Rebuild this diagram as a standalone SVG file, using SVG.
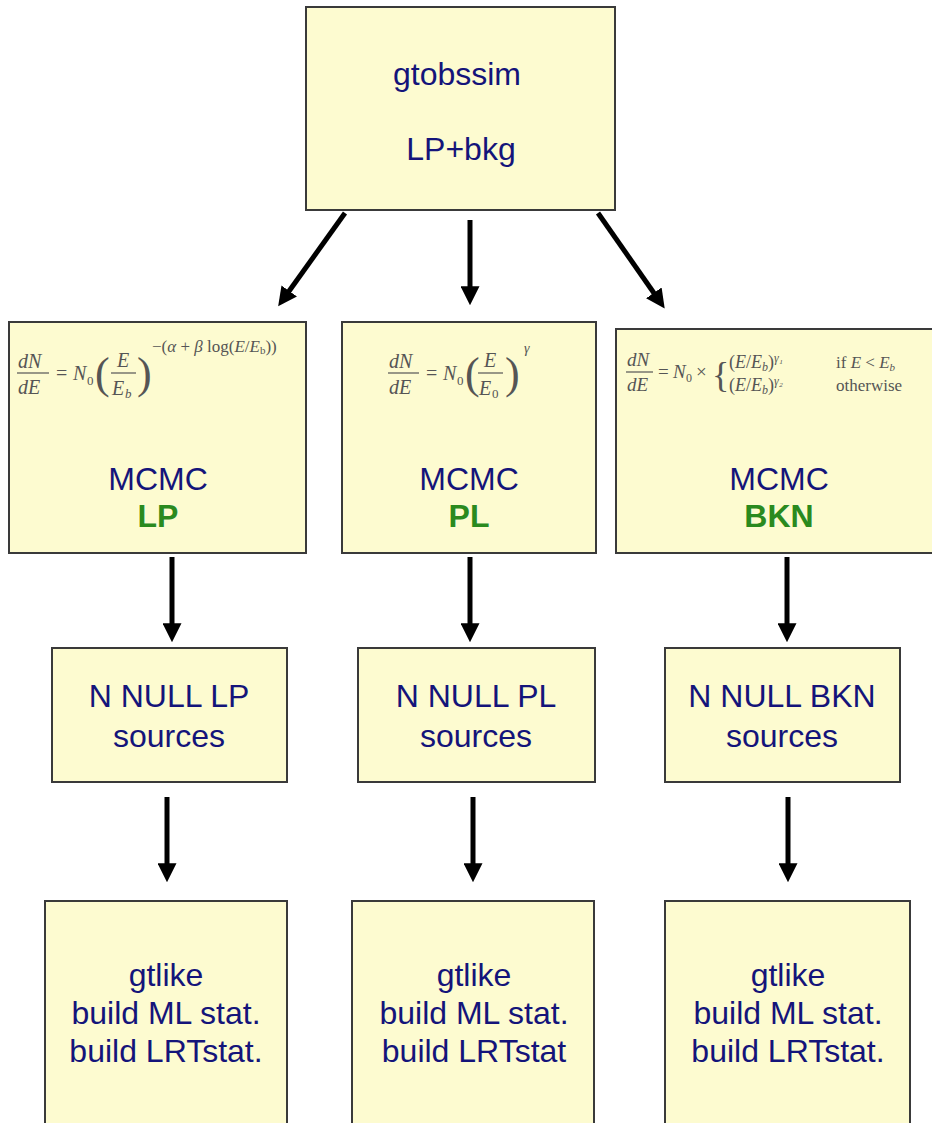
<svg xmlns="http://www.w3.org/2000/svg" width="932" height="1123" viewBox="0 0 932 1123">
<defs>
<style>
.box{fill:#fdfbd0;stroke:#3a3a3a;stroke-width:2}
.t{font-family:"Liberation Sans",Arial,sans-serif;font-size:32px;fill:#14147a;text-anchor:middle}
.g{font-family:"Liberation Sans",Arial,sans-serif;font-size:32px;font-weight:bold;fill:#2a8a1e;text-anchor:middle}
.m{font-family:"Liberation Serif","Times New Roman",serif;font-size:20px;fill:#555}
.mi{font-style:italic}
.ms{font-family:"Liberation Serif","Times New Roman",serif;font-size:13px;fill:#555}
.fl{stroke:#555;stroke-width:1.2}
.c line{stroke:#000;stroke-width:5;marker-end:url(#ah)}
</style>
<marker id="ah" viewBox="0 0 10 10" refX="2" refY="5" markerWidth="3.8" markerHeight="3.8" orient="auto" markerUnits="strokeWidth">
<path d="M0,0 L10,5 L0,10 z" fill="#000"/>
</marker>
</defs>
<rect width="932" height="1123" fill="#fff"/>

<g id="top">
<rect class="box" x="306" y="7" width="309" height="203"/>
<text class="t" x="457" y="85">gtobssim</text>
<text class="t" x="461" y="160">LP+bkg</text>
</g>

<g id="mcmc-lp">
<rect class="box" x="9" y="322" width="297" height="231"/>
<text class="m mi" x="18" y="368">dN</text>
<line class="fl" x1="17" y1="373" x2="49" y2="373"/>
<text class="m mi" x="18" y="394">dE</text>
<text class="m" x="56" y="380">=</text>
<text class="m mi" x="73" y="380">N</text><text class="ms" x="87" y="385">0</text>
<text class="m" x="95" y="388" style="font-size:44px">(</text>
<text class="m mi" x="117" y="367">E</text>
<line class="fl" x1="111" y1="373" x2="136" y2="373"/>
<text class="m mi" x="112" y="395">E</text><text class="ms mi" x="125" y="398">b</text>
<text class="m" x="137" y="388" style="font-size:44px">)</text>
<text class="ms" x="152" y="352" style="font-size:17px">−(<tspan class="mi">α</tspan> + <tspan class="mi">β</tspan> log(<tspan class="mi">E</tspan>/<tspan class="mi">E</tspan><tspan style="font-size:11px" dy="2">b</tspan><tspan dy="-2">))</tspan></text>
<text class="t" x="158" y="490">MCMC</text>
<text class="g" x="158" y="527">LP</text>
</g>

<g id="mcmc-pl">
<rect class="box" x="342" y="322" width="254" height="231"/>
<text class="m mi" x="389" y="368">dN</text>
<line class="fl" x1="388" y1="373" x2="419" y2="373"/>
<text class="m mi" x="389" y="394">dE</text>
<text class="m" x="426" y="380">=</text>
<text class="m mi" x="443" y="380">N</text><text class="ms" x="457" y="385">0</text>
<text class="m" x="465" y="388" style="font-size:44px">(</text>
<text class="m mi" x="484" y="367">E</text>
<line class="fl" x1="478" y1="373" x2="503" y2="373"/>
<text class="m mi" x="479" y="395">E</text><text class="ms" x="492" y="398">0</text>
<text class="m" x="505" y="388" style="font-size:44px">)</text>
<text class="ms mi" x="524" y="353" style="font-size:14px">γ</text>
<text class="t" x="469" y="490">MCMC</text>
<text class="g" x="469" y="527">PL</text>
</g>

<g id="mcmc-bkn">
<rect class="box" x="616" y="329" width="320" height="224"/>
<text class="m mi" x="627" y="366" style="font-size:19px">dN</text>
<line class="fl" x1="626" y1="372" x2="653" y2="372"/>
<text class="m mi" x="627" y="391" style="font-size:19px">dE</text>
<text class="m" x="658" y="378" style="font-size:19px">=</text>
<text class="m mi" x="673" y="378" style="font-size:19px">N</text>
<text class="ms" x="686" y="382" style="font-size:12px">0</text>
<text class="m" x="696" y="378" style="font-size:19px">×</text>
<text class="m" x="712" y="387" style="font-size:36px">{</text>
<text class="m" x="729" y="368" style="font-size:18px">(<tspan class="mi">E</tspan>/<tspan class="mi">E</tspan><tspan class="mi" style="font-size:12px" dy="3">b</tspan><tspan dy="-3">)</tspan><tspan class="mi" style="font-size:12px" dy="-6">γ₁</tspan></text>
<text class="m" x="729" y="391" style="font-size:18px">(<tspan class="mi">E</tspan>/<tspan class="mi">E</tspan><tspan class="mi" style="font-size:12px" dy="3">b</tspan><tspan dy="-3">)</tspan><tspan class="mi" style="font-size:12px" dy="-6">γ₂</tspan></text>
<text class="m" x="836" y="368" style="font-size:17px">if <tspan class="mi">E</tspan> &lt; <tspan class="mi">E</tspan><tspan class="mi" style="font-size:11px" dy="3">b</tspan></text>
<text class="m" x="836" y="391" style="font-size:17px">otherwise</text>
<text class="t" x="779" y="490">MCMC</text>
<text class="g" x="779" y="527">BKN</text>
</g>

<g id="null-lp">
<rect class="box" x="52" y="648" width="235" height="134"/>
<text class="t" x="169" y="707">N NULL LP</text>
<text class="t" x="169" y="747">sources</text>
</g>
<g id="null-pl">
<rect class="box" x="358" y="648" width="237" height="134"/>
<text class="t" x="476" y="707">N NULL PL</text>
<text class="t" x="476" y="747">sources</text>
</g>
<g id="null-bkn">
<rect class="box" x="665" y="648" width="235" height="134"/>
<text class="t" x="782" y="707">N NULL BKN</text>
<text class="t" x="782" y="747">sources</text>
</g>

<g id="gtlike-lp">
<rect class="box" x="45" y="901" width="242" height="240"/>
<text class="t" x="166" y="986">gtlike</text>
<text class="t" x="166" y="1024">build ML stat.</text>
<text class="t" x="166" y="1062">build LRTstat.</text>
</g>
<g id="gtlike-pl">
<rect class="box" x="352" y="901" width="242" height="240"/>
<text class="t" x="474" y="986">gtlike</text>
<text class="t" x="474" y="1024">build ML stat.</text>
<text class="t" x="474" y="1062">build LRTstat</text>
</g>
<g id="gtlike-bkn">
<rect class="box" x="665" y="901" width="245" height="240"/>
<text class="t" x="788" y="986">gtlike</text>
<text class="t" x="788" y="1024">build ML stat.</text>
<text class="t" x="788" y="1062">build LRTstat.</text>
</g>

<g class="c" id="connectors">
<line x1="345" y1="213" x2="287" y2="294"/>
<line x1="470" y1="220" x2="470" y2="290"/>
<line x1="598" y1="213" x2="656" y2="296"/>
<line x1="172" y1="557" x2="172" y2="627"/>
<line x1="470" y1="557" x2="470" y2="627"/>
<line x1="787" y1="557" x2="787" y2="627"/>
<line x1="167" y1="797" x2="167" y2="867"/>
<line x1="473" y1="797" x2="473" y2="867"/>
<line x1="788" y1="797" x2="788" y2="867"/>
</g>
</svg>
